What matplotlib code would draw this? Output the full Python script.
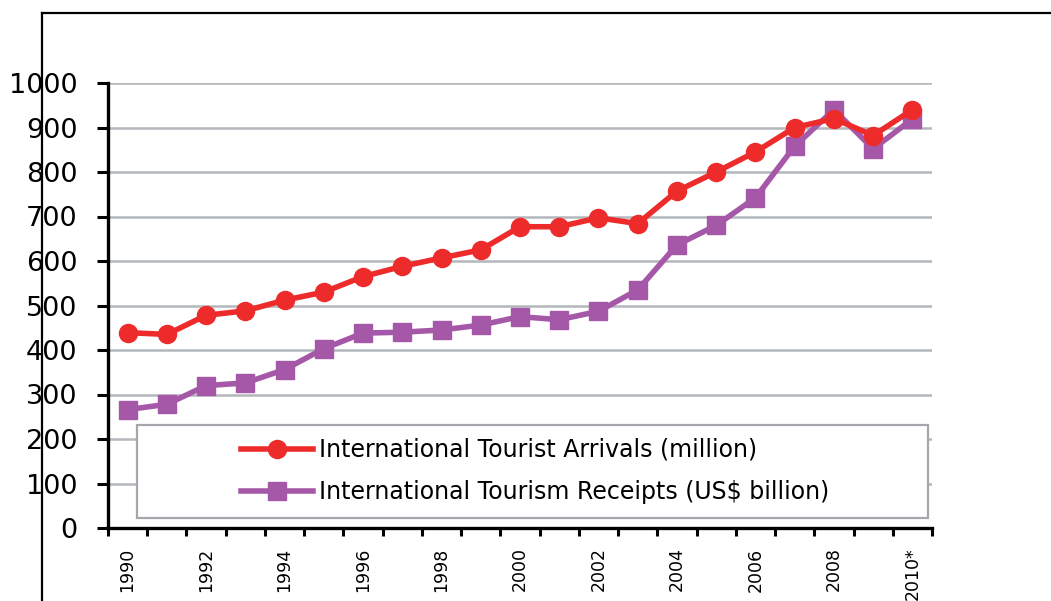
import matplotlib.pyplot as plt
from matplotlib.patches import Rectangle
from matplotlib.lines import Line2D
import numpy as np

years = list(range(1990, 2011))
year_labels = ['1990', '1992', '1994', '1996', '1998', '2000',
               '2002', '2004', '2006', '2008', '2010*']
arrivals = [439, 435, 478, 488, 512, 530, 565, 588, 607, 625, 677,
            677, 697, 684, 757, 800, 845, 900, 920, 882, 940]
receipts = [266, 278, 320, 326, 356, 403, 438, 440, 445, 456, 475,
            468, 487, 535, 636, 680, 742, 858, 940, 852, 919]

red = '#ee2b2b'
purple = '#a658a8'

W, H = 1051, 601
fig = plt.figure(figsize=(W / 100, H / 100), dpi=100)
ax = fig.add_axes([108 / W, 1 - 528 / H, 824 / W, 445 / H])

x = np.arange(len(years))

ax.plot(x, receipts, color=purple, lw=4, marker='s', ms=12.5,
        zorder=3, label='International Tourism Receipts (US$ billion)')
ax.plot(x, arrivals, color=red, lw=4, marker='o', ms=13,
        zorder=4, label='International Tourist Arrivals (million)')

ax.set_xlim(-0.5, len(years) - 0.5)
ax.set_ylim(0, 1000)
ax.set_yticks(range(0, 1001, 100))
ax.yaxis.grid(True, color='#b4b8bc', lw=1.8)
ax.set_axisbelow(True)

# tick marks on the category edges, labels on the even years
ax.set_xticks(np.arange(-0.5, len(years), 1.0))
ax.set_xticklabels([])
ax.set_xticks(x[::2], minor=True)
ax.set_xticklabels(year_labels, minor=True, rotation=90, fontsize=12.5)
ax.tick_params(axis='x', which='major', length=6, width=2.2, direction='out')
ax.tick_params(axis='x', which='minor', length=0, pad=14)
ax.tick_params(axis='y', length=8, width=2.2, labelsize=19.5, pad=14)

for s in ['top', 'right']:
    ax.spines[s].set_visible(False)
for s in ['left', 'bottom']:
    ax.spines[s].set_linewidth(2.4)

# white legend box with grey border covering the grid
box = Rectangle((137 / W, 1 - 518 / H), (928 - 137) / W, (518 - 425) / H,
                transform=fig.transFigure, facecolor='white',
                edgecolor='#a4a8ac', lw=1.6, zorder=2)
ax.add_patch(box)

h, l = ax.get_legend_handles_labels()
leg = ax.legend(h[::-1], l[::-1], loc='upper left', frameon=False,
                bbox_to_anchor=(241 / W, 1 - 438 / H),
                bbox_transform=fig.transFigure, fontsize=17,
                borderpad=0, borderaxespad=0, handlelength=3.05,
                handletextpad=0.25, labelspacing=0.78)
leg.set_zorder(5)

# outer frame lines
fig.add_artist(Line2D([42 / W, 1], [1 - 13 / H, 1 - 13 / H], color='black', lw=1.6))
fig.add_artist(Line2D([42 / W, 42 / W], [0, 1 - 13 / H], color='black', lw=1.6))

fig.savefig('out.png', dpi=100)
